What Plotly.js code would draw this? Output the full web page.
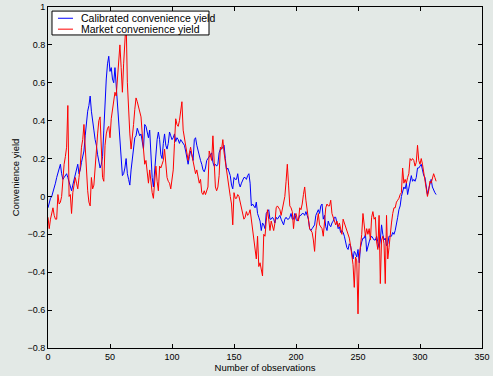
<!DOCTYPE html>
<html>
<head>
<meta charset="utf-8">
<script src="https://cdn.plot.ly/plotly-3.0.1.min.js"></script>
<style>html,body{margin:0;padding:0;background:#E3E9E6;}#chart{width:493px;height:376px;}</style>
</head>
<body>
<div id="chart"></div>
<script>
// Calibrated convenience yield, observations 0..313
const calibrated = [
 -0.06,-0.03,-0.01,0.00,0.02,0.04,0.07,0.10,0.12,0.15,
 0.17,0.12,0.09,0.10,0.11,0.12,0.10,0.08,0.06,0.03,
 0.06,0.09,0.12,0.15,0.17,0.12,0.14,0.18,0.22,0.24,
 0.32,0.40,0.45,0.48,0.53,0.45,0.38,0.35,0.30,0.27,
 0.22,0.18,0.15,0.17,0.21,0.35,0.50,0.62,0.70,0.74,
 0.66,0.68,0.62,0.60,0.68,0.58,0.46,0.38,0.28,0.16,
 0.11,0.12,0.15,0.20,0.12,0.09,0.06,0.14,0.20,0.27,
 0.31,0.32,0.36,0.34,0.32,0.33,0.29,0.25,0.38,0.37,
 0.34,0.31,0.35,0.21,0.10,0.05,0.14,0.24,0.30,0.34,
 0.30,0.22,0.20,0.28,0.33,0.27,0.25,0.28,0.34,0.32,
 0.30,0.31,0.33,0.29,0.31,0.30,0.28,0.30,0.29,0.28,
 0.27,0.24,0.20,0.17,0.21,0.24,0.22,0.19,0.30,0.31,
 0.27,0.24,0.21,0.19,0.17,0.14,0.13,0.15,0.19,0.20,
 0.21,0.22,0.23,0.18,0.16,0.17,0.16,0.17,0.23,0.25,
 0.25,0.26,0.27,0.20,0.14,0.15,0.13,0.11,0.06,0.04,
 0.10,0.09,0.09,0.12,0.07,0.05,0.07,0.09,0.10,0.10,
 0.09,0.11,0.12,0.07,-0.05,-0.04,-0.05,-0.06,-0.03,-0.09,
 -0.11,-0.13,-0.18,-0.14,-0.15,-0.17,-0.09,-0.08,-0.07,-0.12,
 -0.12,-0.11,-0.12,-0.14,-0.11,-0.12,-0.11,-0.10,-0.12,-0.14,
 -0.15,-0.12,-0.11,-0.12,-0.12,-0.11,-0.09,-0.12,-0.12,-0.09,
 -0.12,-0.13,-0.12,-0.10,-0.10,-0.09,-0.09,-0.10,-0.08,-0.10,
 -0.12,-0.17,-0.18,-0.17,-0.16,-0.15,-0.10,-0.08,-0.07,-0.09,
 -0.05,-0.04,-0.12,-0.10,-0.16,-0.18,-0.13,-0.15,-0.16,-0.14,
 -0.13,-0.11,-0.11,-0.14,-0.17,-0.16,-0.19,-0.18,-0.19,-0.21,
 -0.25,-0.27,-0.28,-0.25,-0.26,-0.30,-0.33,-0.29,-0.30,-0.32,
 -0.28,-0.35,-0.27,-0.24,-0.22,-0.22,-0.20,-0.29,-0.26,-0.24,
 -0.22,-0.21,-0.22,-0.23,-0.23,-0.21,-0.24,-0.27,-0.23,-0.15,
 -0.20,-0.23,-0.22,-0.26,-0.25,-0.21,-0.21,-0.21,-0.19,-0.20,
 -0.18,-0.15,-0.11,-0.07,-0.05,0.00,0.03,0.05,0.04,0.07,
 0.01,0.04,0.07,0.11,0.08,0.09,0.08,0.10,0.15,0.15,
 0.16,0.17,0.14,0.11,0.10,0.04,0.01,0.04,0.07,0.09,
 0.05,0.03,0.02,0.01
];
// Market convenience yield, observations 0..313
const market = [
 -0.11,-0.17,-0.12,-0.08,-0.06,-0.10,-0.12,-0.12,0.01,-0.04,
 -0.03,0.00,0.09,0.17,0.21,0.26,0.48,0.00,0.01,-0.09,
 0.02,0.07,0.10,0.07,0.04,0.10,0.16,0.26,0.30,0.38,
 0.25,0.12,0.03,-0.03,-0.05,0.10,0.04,0.06,0.18,0.24,
 0.33,0.40,0.42,0.27,0.10,0.08,0.27,0.33,0.36,0.37,
 0.31,0.41,0.45,0.50,0.55,0.53,0.62,0.73,0.80,0.68,
 0.55,0.70,0.83,0.93,0.60,0.45,0.33,0.25,0.30,0.38,
 0.46,0.52,0.50,0.47,0.44,0.42,0.33,0.25,0.17,0.19,
 0.12,0.07,0.14,0.06,0.02,-0.01,0.10,0.16,0.08,0.03,
 0.16,0.15,0.17,0.19,0.25,0.16,0.10,0.08,0.07,0.04,
 0.09,0.14,0.28,0.41,0.38,0.37,0.40,0.45,0.50,0.35,
 0.31,0.26,0.21,0.19,0.23,0.26,0.22,0.19,0.16,0.12,
 0.14,0.09,0.07,0.09,0.02,0.01,0.03,0.01,0.03,0.05,
 0.24,0.21,0.19,0.32,0.16,0.05,0.03,0.05,0.11,0.26,
 0.25,0.30,0.23,0.18,0.12,0.09,0.03,0.00,-0.04,-0.15,
 0.02,-0.01,-0.01,0.01,0.00,-0.03,-0.05,-0.08,-0.12,-0.11,
 -0.08,-0.10,-0.09,-0.07,-0.12,-0.16,-0.20,-0.25,-0.33,-0.21,
 -0.37,-0.35,-0.38,-0.42,-0.20,-0.21,-0.13,-0.07,-0.12,-0.18,
 -0.13,-0.16,-0.18,-0.14,-0.06,-0.05,-0.06,-0.07,-0.10,-0.06,
 -0.02,0.00,0.08,0.17,0.06,-0.05,-0.06,-0.08,-0.17,-0.10,
 -0.09,-0.12,-0.13,-0.06,-0.07,-0.04,0.01,0.05,-0.02,-0.07,
 -0.15,-0.17,-0.18,-0.19,-0.23,-0.29,-0.18,-0.12,-0.09,-0.15,
 -0.16,-0.17,-0.21,-0.15,-0.06,-0.04,-0.05,-0.05,-0.02,-0.09,
 -0.11,-0.14,-0.15,-0.13,-0.16,-0.14,-0.18,-0.20,-0.12,-0.14,
 -0.17,-0.19,-0.20,-0.22,-0.26,-0.30,-0.36,-0.48,-0.32,-0.34,
 -0.62,-0.32,-0.27,-0.20,-0.09,-0.17,-0.21,-0.17,-0.20,-0.17,
 -0.23,-0.11,-0.08,-0.12,-0.11,-0.24,-0.28,-0.10,-0.46,-0.23,
 -0.21,-0.25,-0.46,-0.10,-0.33,-0.27,-0.18,-0.14,-0.09,-0.06,
 -0.06,-0.03,-0.02,-0.01,0.01,0.02,0.15,0.07,0.09,0.07,
 0.10,0.12,0.20,0.19,0.20,0.19,0.16,0.18,0.27,0.19,
 0.17,0.20,0.17,0.12,0.10,0.05,0.00,0.03,0.08,0.07,
 0.09,0.12,0.10,0.08
];
const obsCal = calibrated.map((_, i) => i);
const obsMkt = market.map((_, i) => i);
const xTicks = [0, 50, 100, 150, 200, 250, 300, 350];
const yTicks = [-0.8, -0.6, -0.4, -0.2, 0, 0.2, 0.4, 0.6, 0.8, 1];
const names = ['Calibrated convenience yield', 'Market convenience yield'];
const colors = ['#0000FF', '#FF0000'];

const bg = '#E3E9E6';
const font = 'Liberation Sans, Arial, sans-serif';
const traces = [
  {x: obsCal, y: calibrated, type: 'scatter', mode: 'lines', name: names[0],
   line: {color: colors[0], width: 1}},
  {x: obsMkt, y: market, type: 'scatter', mode: 'lines', name: names[1],
   line: {color: colors[1], width: 1}}
];
const axisCommon = {
  showgrid: false, zeroline: false, showline: true, linecolor: '#000', linewidth: 1,
  mirror: 'ticks', ticks: 'inside', ticklen: 4, tickcolor: '#000',
  tickfont: {family: font, size: 9, color: '#000'}
};
// legend drawn as a boxed key in the upper-left corner of the axes
const legY = [0.967, 0.935];
const shapes = [
  {type: 'rect', xref: 'paper', yref: 'paper', x0: 0.0092, x1: 0.371, y0: 0.918, y1: 0.988,
   fillcolor: '#FFFFFF', line: {color: '#000', width: 1}, layer: 'above'}
].concat(names.map((n, i) => ({type: 'line', xref: 'paper', yref: 'paper',
   x0: 0.023, x1: 0.0576, y0: legY[i], y1: legY[i], line: {color: colors[i], width: 1}, layer: 'above'})));
const annotations = names.map((n, i) => ({xref: 'paper', yref: 'paper', x: 0.0714, y: legY[i],
   xanchor: 'left', yanchor: 'middle', text: n, showarrow: false,
   font: {family: font, size: 10.5, color: '#000'}}));

const layout = {
  width: 493, height: 376,
  paper_bgcolor: bg, plot_bgcolor: bg,
  margin: {l: 48, r: 11, t: 7, b: 28},
  showlegend: false,
  shapes: shapes, annotations: annotations,
  xaxis: Object.assign({}, axisCommon, {
    range: [0, 350], tickvals: xTicks, ticktext: xTicks.map(String),
    title: {text: 'Number of observations', standoff: 2,
      font: {family: font, size: 9.5, color: '#000'}}
  }),
  yaxis: Object.assign({}, axisCommon, {
    range: [-0.8, 1], tickvals: yTicks,
    ticktext: yTicks.map(v => (v < 0 ? '\u2212' : '') + String(Math.abs(v))),
    title: {text: 'Convenience yield', standoff: 6,
      font: {family: font, size: 9.5, color: '#000'}}
  })
};
Plotly.newPlot('chart', traces, layout, {displayModeBar: false, staticPlot: true});
</script>
</body>
</html>
